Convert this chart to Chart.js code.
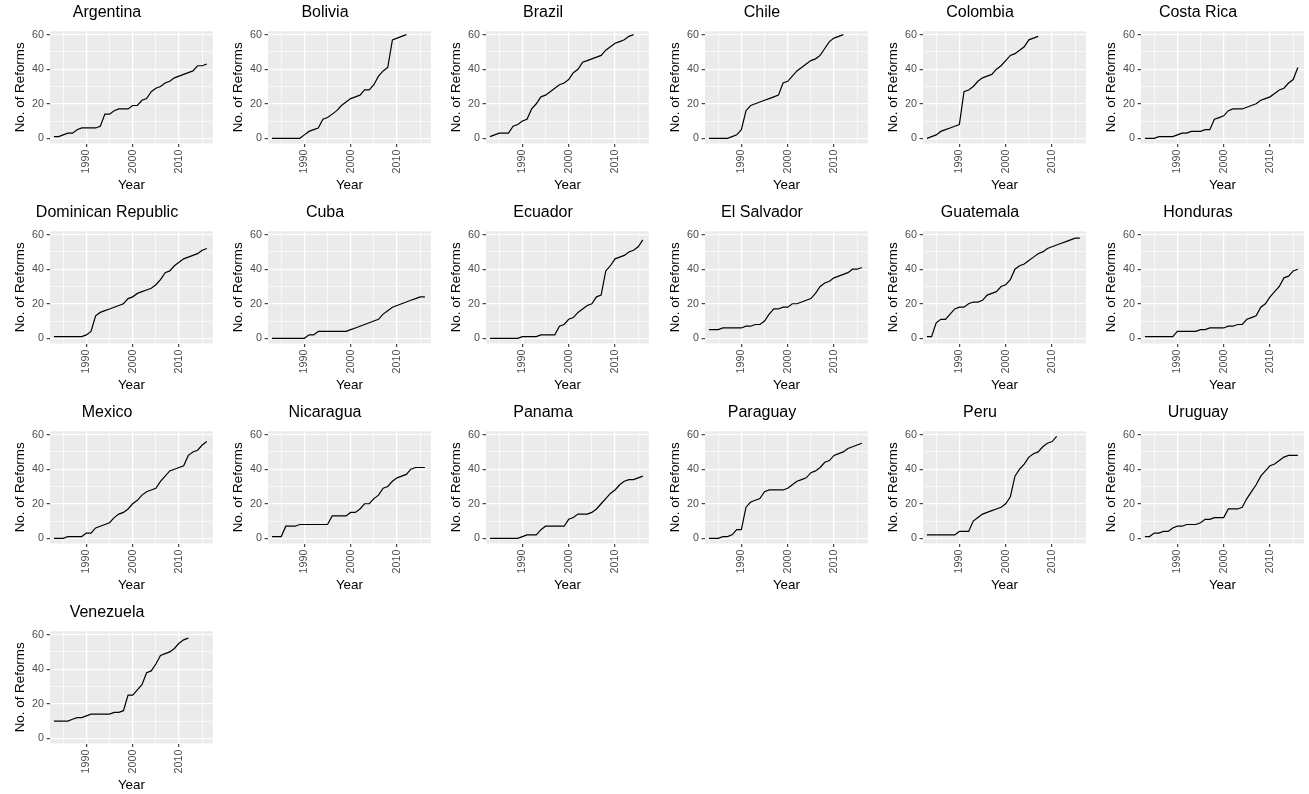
<!DOCTYPE html>
<html>
<head>
<meta charset="utf-8">
<script src="https://cdn.jsdelivr.net/npm/chart.js@4.4.1/dist/chart.umd.min.js"></script>
<style>
  html, body { margin: 0; padding: 0; background: #fff; overflow: hidden; }
  #grid { position: relative; width: 1309px; height: 794px; }
  #grid canvas { position: absolute; }
</style>
</head>
<body>
<div id="grid"></div>
<script>
// Cumulative number of reforms per country, one value per year from firstYear
const firstYear = 1983;
const countries = ['Argentina', 'Bolivia', 'Brazil', 'Chile', 'Colombia', 'Costa Rica',
  'Dominican Republic', 'Cuba', 'Ecuador', 'El Salvador', 'Guatemala', 'Honduras',
  'Mexico', 'Nicaragua', 'Panama', 'Paraguay', 'Peru', 'Uruguay', 'Venezuela'];

const argentina = [1,1,2,3,3,5,6,6,6,6,7,14,14,16,17,17,17,19,19,22,23,27,29,30,32,33,35,36,37,38,39,42,42,43];
const bolivia = [0,0,0,0,0,0,0,2,4,5,6,11,12,14,16,19,21,23,24,25,28,28,31,36,39,41,57,58,59,60];
const brazil = [1,2,3,3,3,7,8,10,11,17,20,24,25,27,29,31,32,34,38,40,44,45,46,47,48,51,53,55,56,57,59,60];
const chile = [0,0,0,0,0,1,2,5,16,19,20,21,22,23,24,25,32,33,36,39,41,43,45,46,48,52,56,58,59,60];
const colombia = [0,1,2,4,5,6,7,8,27,28,30,33,35,36,37,40,42,45,48,49,51,53,57,58,59];
const costaRica = [0,0,0,1,1,1,1,2,3,3,4,4,4,5,5,11,12,13,16,17,17,17,18,19,20,22,23,24,26,28,29,32,34,41];
const dominicanRepublic = [1,1,1,1,1,1,1,2,4,13,15,16,17,18,19,20,23,24,26,27,28,29,31,34,38,39,42,44,46,47,48,49,51,52];
const cuba = [0,0,0,0,0,0,0,0,2,2,4,4,4,4,4,4,4,5,6,7,8,9,10,11,14,16,18,19,20,21,22,23,24,24];
const ecuador = [0,0,0,0,0,0,0,1,1,1,1,2,2,2,2,7,8,11,12,15,17,19,20,24,25,39,42,46,47,48,50,51,53,57];
const elSalvador = [5,5,5,6,6,6,6,6,7,7,8,8,10,14,17,17,18,18,20,20,21,22,23,26,30,32,33,35,36,37,38,40,40,41];
const guatemala = [1,1,9,11,11,14,17,18,18,20,21,21,22,25,26,27,30,31,34,40,42,43,45,47,49,50,52,53,54,55,56,57,58,58];
const honduras = [1,1,1,1,1,1,1,4,4,4,4,4,5,5,6,6,6,6,7,7,8,8,11,12,13,18,20,24,27,30,35,36,39,40];
const mexico = [0,0,0,1,1,1,1,3,3,6,7,8,9,12,14,15,17,20,22,25,27,28,29,33,36,39,40,41,42,48,50,51,54,56];
const nicaragua = [1,1,1,7,7,7,8,8,8,8,8,8,8,13,13,13,13,15,15,17,20,20,23,25,29,30,33,35,36,37,40,41,41,41];
const panama = [0,0,0,0,0,0,0,1,2,2,2,5,7,7,7,7,7,11,12,14,14,14,15,17,20,23,26,28,31,33,34,34,35,36];
const paraguay = [0,0,0,1,1,2,5,5,18,21,22,23,27,28,28,28,28,29,31,33,34,35,38,39,41,44,45,48,49,50,52,53,54,55];
const peru = [2,2,2,2,2,2,2,4,4,4,10,12,14,15,16,17,18,20,24,36,40,43,47,49,50,53,55,56,59];
const uruguay = [1,1,3,3,4,4,6,7,7,8,8,8,9,11,11,12,12,12,17,17,17,18,23,27,31,36,39,42,43,45,47,48,48,48];
const venezuela = [10,10,10,10,11,12,12,13,14,14,14,14,14,15,15,16,25,25,28,31,38,39,43,48,49,50,52,55,57,58];

const reforms = [argentina, bolivia, brazil, chile, colombia, costaRica,
  dominicanRepublic, cuba, ecuador, elSalvador, guatemala, honduras,
  mexico, nicaragua, panama, paraguay, peru, uruguay, venezuela];

// grid positions (major ones get a label and a tick mark)
const yearTicks = [1985, 1990, 1995, 2000, 2005, 2010, 2015];
const yearLabels = [1990, 2000, 2010];
const reformTicks = [0, 10, 20, 30, 40, 50, 60];
const reformLabels = [0, 20, 40, 60];

const FONT = '"Liberation Sans", Arial, Helvetica, sans-serif';
const CELL_W = 1309 / 6;
const CELL_H = 200;
const COLS = 6;

// grey panel behind the grid lines
const panelBackground = {
  id: 'panelBackground',
  beforeDraw(chart) {
    const { ctx, chartArea: a } = chart;
    ctx.save();
    ctx.fillStyle = '#EBEBEB';
    ctx.fillRect(a.left, a.top, a.right - a.left, a.bottom - a.top);
    ctx.restore();
  }
};

function gridFor(labels) {
  return {
    color: '#FFFFFF',
    lineWidth: ctx => labels.includes(ctx.tick.value) ? 1.3 : 0.65,
    tickLength: 3.4,
    tickWidth: 1.1,
    tickColor: ctx => labels.includes(ctx.tick.value) ? '#333333' : 'rgba(0,0,0,0)'
  };
}

function drawPanel(name, values, i) {
  const canvas = document.createElement('canvas');
  canvas.width = 218;
  canvas.height = CELL_H;
  canvas.style.width = '218px';
  canvas.style.height = CELL_H + 'px';
  canvas.style.left = Math.round((i % COLS) * CELL_W) + 'px';
  canvas.style.top = Math.floor(i / COLS) * CELL_H + 'px';
  document.getElementById('grid').appendChild(canvas);

  const points = values.map((v, k) => ({ x: firstYear + k, y: v }));

  new Chart(canvas, {
    type: 'line',
    data: {
      datasets: [{
        data: points,
        borderColor: '#000000',
        borderWidth: 1.2,
        pointRadius: 0,
        tension: 0,
        fill: false
      }]
    },
    options: {
      responsive: false,
      animation: false,
      devicePixelRatio: 1,
      layout: { padding: { left: 0, right: 4, top: 0, bottom: 0 } },
      plugins: {
        legend: { display: false },
        tooltip: { enabled: false },
        title: {
          display: true,
          text: name,
          color: '#000000',
          font: { family: FONT, size: 16, weight: 'normal' },
          padding: { top: 2.9, bottom: 9.1 }
        }
      },
      scales: {
        x: {
          type: 'linear',
          min: 1982.15,
          max: 2017.3,
          afterBuildTicks: s => { s.ticks = yearTicks.map(v => ({ value: v })); },
          afterFit: s => { s.height = 56.5; },
          grid: gridFor(yearLabels),
          border: { display: false },
          ticks: {
            autoSkip: false,
            minRotation: 90,
            maxRotation: 90,
            padding: 2.7,
            color: '#4D4D4D',
            font: { family: FONT, size: 10.7 },
            callback: v => yearLabels.includes(v) ? String(v) : ''
          },
          title: {
            display: true,
            text: 'Year',
            color: '#000000',
            font: { family: FONT, size: 13.4 },
            padding: { top: 0, bottom: 6.9 }
          }
        },
        y: {
          type: 'linear',
          min: -3,
          max: 62,
          afterBuildTicks: s => { s.ticks = reformTicks.map(v => ({ value: v })); },
          afterFit: s => { s.width = 50; },
          grid: gridFor(reformLabels),
          border: { display: false },
          ticks: {
            padding: 2.7,
            color: '#4D4D4D',
            font: { family: FONT, size: 10.7 },
            callback: v => reformLabels.includes(v) ? String(v) : ''
          },
          title: {
            display: true,
            text: 'No. of Reforms',
            color: '#000000',
            font: { family: FONT, size: 13.4 },
            padding: { top: 12.4, bottom: 0 }
          }
        }
      }
    },
    plugins: [panelBackground]
  });
}

countries.forEach((name, i) => drawPanel(name, reforms[i], i));
</script>
</body>
</html>
